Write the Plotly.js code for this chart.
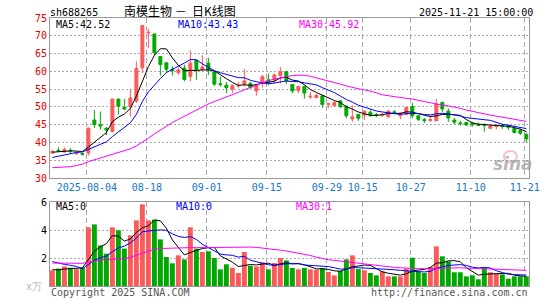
<!DOCTYPE html>
<html>
<head>
<meta charset="utf-8">
<script src="https://cdn.plot.ly/plotly-3.0.1.min.js"></script>
<style>html,body{margin:0;padding:0;background:#fff;}#chart{width:545px;height:300px;}</style>
</head>
<body>
<div id="chart"></div>
<script>
// ---- data ----
const dates = [
 '2025-07-25',
 '2025-07-28','2025-07-29','2025-07-30','2025-07-31','2025-08-01',
 '2025-08-04','2025-08-05','2025-08-06','2025-08-07','2025-08-08',
 '2025-08-11','2025-08-12','2025-08-13','2025-08-14','2025-08-15',
 '2025-08-18','2025-08-19','2025-08-20','2025-08-21','2025-08-22',
 '2025-08-25','2025-08-26','2025-08-27','2025-08-28','2025-08-29',
 '2025-09-01','2025-09-02','2025-09-03','2025-09-04','2025-09-05',
 '2025-09-08','2025-09-09','2025-09-10','2025-09-11','2025-09-12',
 '2025-09-15','2025-09-16','2025-09-17','2025-09-18','2025-09-19',
 '2025-09-22','2025-09-23','2025-09-24','2025-09-25','2025-09-26',
 '2025-09-29','2025-09-30','2025-10-09','2025-10-10',
 '2025-10-13','2025-10-14','2025-10-15','2025-10-16','2025-10-17',
 '2025-10-20','2025-10-21','2025-10-22','2025-10-23','2025-10-24',
 '2025-10-27','2025-10-28','2025-10-29','2025-10-30','2025-10-31',
 '2025-11-03','2025-11-04','2025-11-05','2025-11-06','2025-11-07',
 '2025-11-10','2025-11-11','2025-11-12','2025-11-13','2025-11-14',
 '2025-11-17','2025-11-18','2025-11-19','2025-11-20','2025-11-21'
];
const openP = [37.0,37.8,37.3,37.8,36.8,36.9,37.0,46.3,45.0,44.0,
 43.1,52.2,49.8,50.0,51.6,61.0,70.8,70.5,64.2,62.4,
 60.6,59.6,60.9,58.6,63.1,60.5,62.3,59.9,56.5,56.1,
 55.0,55.9,56.4,56.6,54.5,56.6,57.6,57.6,58.8,59.9,
 56.3,54.6,55.7,52.8,52.6,53.1,50.7,50.4,51.7,50.2,
 46.6,47.9,47.7,48.5,47.8,47.7,47.2,48.6,47.5,47.9,
 50.1,47.5,46.4,46.2,46.1,51.3,48.8,46.3,45.5,45.6,
 45.3,45.0,45.0,44.0,44.5,44.7,44.6,43.9,43.4,42.2];
const highP = [37.8,38.6,38.6,38.4,37.4,37.2,44.2,49.1,48.7,44.3,
 52.2,52.3,52.2,55.0,62.8,72.9,72.0,70.6,64.3,62.6,
 61.5,61.0,61.9,65.9,63.2,64.5,63.8,60.0,58.5,57.0,
 56.2,57.0,60.7,57.0,56.5,59.0,59.4,59.4,61.2,60.0,
 56.4,55.9,56.0,54.3,53.7,53.2,51.1,51.7,51.8,50.3,
 50.5,48.0,49.1,49.1,48.3,48.3,49.1,49.1,48.5,50.0,
 51.2,47.7,46.9,47.5,52.2,51.3,49.6,46.9,46.1,45.8,
 45.7,45.6,45.4,45.1,45.2,45.2,44.9,44.7,43.9,42.7];
const lowP = [36.9,37.3,37.2,36.8,36.5,36.3,36.3,44.1,43.6,42.0,
 42.9,47.8,49.1,47.3,51.1,59.5,66.5,64.5,58.8,59.5,
 58.8,59.0,57.2,57.2,57.6,60.0,59.0,55.9,55.7,53.9,
 53.9,55.4,55.7,55.2,53.1,55.4,56.1,56.6,56.6,56.4,
 53.9,53.9,52.3,52.2,52.5,49.8,49.6,50.1,49.6,46.8,
 45.8,46.1,46.3,47.2,47.1,47.2,47.0,47.9,46.5,47.6,
 46.8,46.0,45.4,45.8,46.0,48.5,45.8,45.1,44.7,44.7,
 44.4,44.7,43.0,43.8,43.7,43.8,43.5,42.5,42.1,40.1];
const closeP = [37.5,37.6,38.0,37.6,37.2,36.7,44.0,45.0,44.6,43.5,
 52.2,50.2,49.4,52.5,60.8,72.9,71.0,65.2,61.9,60.6,
 60.3,60.4,57.7,62.3,60.4,61.2,60.4,56.4,56.3,55.4,
 56.1,56.0,57.3,55.4,56.3,58.5,57.0,59.0,59.9,57.3,
 54.5,55.7,53.9,53.0,53.2,50.7,50.9,51.2,50.1,47.5,
 47.2,46.8,48.8,47.7,47.6,47.9,48.8,48.4,48.2,49.8,
 47.5,46.5,46.2,46.4,50.8,49.4,46.9,45.7,45.3,44.9,
 45.0,44.8,44.8,44.6,44.6,44.5,44.3,42.8,42.6,41.0];
// closes of the 9 sessions before the first visible one (estimated from the MA lines)
const priorCloses = [33.8,34.0,34.2,34.5,35.0,36.9,37.3,37.2,37.4];
const ma30Price = [32.9,32.95,33.0,33.2,33.5,33.9,34.6,35.1,35.5,36.0,
 36.6,37.1,37.6,38.2,39.0,40.0,41.2,42.4,43.5,44.6,
 45.6,46.5,47.4,48.3,49.2,50.0,50.8,51.5,52.1,52.8,
 53.5,54.1,54.8,55.5,56.1,56.8,57.4,57.8,58.2,58.6,
 58.8,58.9,58.9,58.6,58.2,57.7,57.2,56.8,56.4,55.9,
 55.4,55.1,54.8,54.5,54.0,53.4,53.1,52.8,52.6,52.4,
 52.2,51.8,51.4,51.1,50.8,50.6,50.3,50.0,49.6,49.1,
 48.7,48.4,48.0,47.7,47.4,47.1,46.9,46.6,46.3,45.92];
const volume = [1.12,1.24,1.40,1.31,1.21,1.31,4.19,4.40,2.90,2.31,
 4.19,3.98,2.67,3.62,4.69,5.83,4.69,4.74,3.33,2.07,
 1.62,2.19,1.90,4.19,2.67,2.43,2.48,2.00,1.19,1.55,
 1.31,0.93,2.43,1.45,1.40,1.69,1.19,1.64,2.00,1.83,
 1.29,1.19,1.29,1.19,1.17,1.29,1.00,0.76,1.07,1.90,
 2.19,1.21,1.12,0.93,0.76,1.05,0.69,0.69,0.69,1.24,
 2.02,1.05,0.93,1.36,2.83,2.12,1.76,0.98,0.98,0.69,
 0.76,0.48,1.31,0.98,0.88,0.83,0.52,0.69,0.69,0.69];
const priorVolumes = [2.4,2.2,2.0,2.0,3.0,1.3,1.1,1.2,1.1];
const ma30Volume = [1.64,1.63,1.62,1.62,1.62,1.62,1.70,1.78,1.85,1.88,
 1.90,1.92,1.95,2.05,2.20,2.35,2.50,2.62,2.68,2.70,
 2.71,2.72,2.73,2.74,2.74,2.75,2.76,2.77,2.78,2.78,
 2.79,2.79,2.79,2.78,2.76,2.72,2.66,2.62,2.56,2.50,
 2.43,2.36,2.28,2.18,2.06,1.95,1.88,1.83,1.78,1.72,
 1.66,1.62,1.57,1.50,1.44,1.39,1.36,1.33,1.30,1.27,
 1.25,1.24,1.24,1.25,1.28,1.31,1.32,1.31,1.30,1.28,
 1.26,1.24,1.21,1.20,1.19,1.17,1.16,1.15,1.13,1.12];
const tickDates = ['2025-08-04','2025-08-18','2025-09-01','2025-09-15','2025-09-29',
 '2025-10-15','2025-10-27','2025-11-10','2025-11-21'];
const tickLabels = ['2025-08-04','08-18','09-01','09-15','09-29','10-15','10-27','11-10','11-21'];
const priceTicks = [30,35,40,45,50,55,60,65,70,75];
const volTicks = [2,4,6];

// ---- derived ----
const RED = '#fa5a5a', GREEN = '#00a800';
const MONO = 'DejaVu Sans Mono, monospace';
const idx = dates.map((d,i)=>i);
function movingAvg(prior, vals, n){
  const all = prior.concat(vals), off = prior.length, out = [];
  for(let i=0;i<vals.length;i++){
    let s=0; for(let k=0;k<n;k++) s+=all[off+i-k];
    out.push(s/n);
  }
  return out;
}
const ma5 = movingAvg(priorCloses, closeP, 5);
const ma10 = movingAvg(priorCloses, closeP, 10);
const vma5 = movingAvg(priorVolumes, volume, 5);
const vma10 = movingAvg(priorVolumes, volume, 10);
const volColors = idx.map(i => closeP[i] >= openP[i] ? RED : GREEN);
const tickPos = tickDates.map(d => dates.indexOf(d) - 0.25);

const traces = [
  {type:'candlestick', x:idx, open:openP, high:highP, low:lowP, close:closeP,
   xaxis:'x', yaxis:'y', whiskerwidth:0, hoverinfo:'skip',
   increasing:{line:{color:RED,width:1}, fillcolor:RED},
   decreasing:{line:{color:GREEN,width:1}, fillcolor:GREEN}},
  {type:'scatter', mode:'lines', x:idx, y:ma5, xaxis:'x', yaxis:'y', line:{color:'#000',width:1}, hoverinfo:'skip'},
  {type:'scatter', mode:'lines', x:idx, y:ma10, xaxis:'x', yaxis:'y', line:{color:'#0000ff',width:1}, hoverinfo:'skip'},
  {type:'scatter', mode:'lines', x:idx, y:ma30Price, xaxis:'x', yaxis:'y', line:{color:'#ff00ff',width:1}, hoverinfo:'skip'},
  {type:'bar', x:idx, y:volume, xaxis:'x2', yaxis:'y2', marker:{color:volColors, line:{width:0}}, hoverinfo:'skip'},
  {type:'scatter', mode:'lines', x:idx, y:vma5, xaxis:'x2', yaxis:'y2', line:{color:'#000',width:1}, hoverinfo:'skip'},
  {type:'scatter', mode:'lines', x:idx, y:vma10, xaxis:'x2', yaxis:'y2', line:{color:'#0000ff',width:1}, hoverinfo:'skip'},
  {type:'scatter', mode:'lines', x:idx, y:ma30Volume, xaxis:'x2', yaxis:'y2', line:{color:'#ff00ff',width:1}, hoverinfo:'skip'}
];

const frame = '#999999';
const xCommon = {range:[-0.4,79.45], tickvals:tickPos, ticktext:tickLabels, showgrid:true,
  gridcolor:'#aaaaaa', griddash:'5px,3px', gridwidth:1, zeroline:false, showline:true, mirror:true,
  linecolor:frame, linewidth:1, ticks:'', fixedrange:true};
const ann = (x,y,text,color,xanchor,size,family)=>({xref:'paper',yref:'paper',x:x,y:y,text:text,showarrow:false,
  xanchor:xanchor||'left',yanchor:'middle',font:{family:family||MONO,size:size||10,color:color}});
const W=479, H=268, L=50, T=18;
const px = (x)=>(x-L)/W, py = (y)=>1-(y-T)/H;

const layout = {
  width:545, height:300, margin:{l:50,r:16,t:18,b:14}, showlegend:false, hovermode:false,
  paper_bgcolor:'#fff', plot_bgcolor:'#fff', bargap:0.18,
  xaxis: Object.assign({}, xCommon, {anchor:'y', domain:[0,1], rangeslider:{visible:false},
    tickfont:{family:MONO,size:10,color:'#1478c8'}}),
  yaxis: {domain:[(286-178)/268,1], range:[30,75], tickvals:priceTicks, showgrid:true, gridcolor:'#aaaaaa',
    griddash:'2px,2px', zeroline:false, showline:true, mirror:true, linecolor:frame, linewidth:1, ticks:'',
    tickfont:{family:MONO,size:10,color:'#e60000'}, fixedrange:true},
  xaxis2: Object.assign({}, xCommon, {anchor:'y2', domain:[0,1], showticklabels:false}),
  yaxis2: {domain:[0,(286-202)/268], range:[0,6], tickvals:volTicks, showgrid:true, gridcolor:'#aaaaaa',
    griddash:'2px,2px', zeroline:false, showline:true, mirror:true, linecolor:frame, linewidth:1, ticks:'',
    tickfont:{family:MONO,size:10,color:'#000'}, fixedrange:true},
  shapes: [
    {type:'circle', xref:'paper', yref:'paper', x0:px(504), x1:px(517), y0:py(162), y1:py(151),
     line:{color:'rgba(240,120,120,0.45)', width:2}, fillcolor:'rgba(255,255,255,0)'}
  ],
  annotations: [
    ann(px(48), py(12), 'sh688265', '#000'),
    ann(px(122), py(11), '南模生物 －  日K线图', '#000', 'left', 12, 'Noto Sans CJK SC'),
    ann(px(535), py(12), '2025-11-21 15:00:00', '#000', 'right'),
    ann(px(54), py(24.5), 'MA5:42.52', '#000'),
    ann(px(176), py(24.5), 'MA10:43.43', '#0000ff'),
    ann(px(297), py(24.5), 'MA30:45.92', '#ff00ff'),
    ann(px(54), py(206), 'MA5:0', '#000'),
    ann(px(174), py(206), 'MA10:0', '#0000ff'),
    ann(px(294), py(206), 'MA30:1', '#ff00ff'),
    ann(px(44), py(286), 'x万', '#b4b4b4', 'right'),
    ann(px(49), py(292.5), 'Copyright 2025 SINA.COM', '#555'),
    ann(px(530), py(292.5), 'http://finance.sina.com.cn', '#555', 'right'),
    {xref:'paper',yref:'paper',x:px(513),y:py(164),text:'<b><i>sina</i></b>',showarrow:false,
     xanchor:'center',yanchor:'middle',font:{family:'DejaVu Sans',size:17,color:'rgba(160,160,160,0.75)'}}
  ]
};

Plotly.newPlot('chart', traces, layout, {staticPlot:true, displayModeBar:false});
</script>
</body>
</html>
